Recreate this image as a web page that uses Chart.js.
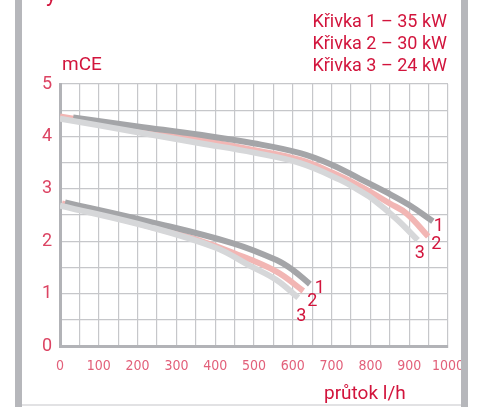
<!DOCTYPE html>
<html>
<head>
<meta charset="utf-8">
<script src="https://cdn.jsdelivr.net/npm/chart.js@4"></script>
<style>
    html, body { margin: 0; padding: 0; background: #ffffff; }
    #wrap { position: relative; width: 480px; height: 407px; overflow: hidden; }
    #chart { position: absolute; left: 0; top: 0; }
    .bar { position: absolute; top: 0; bottom: 0; width: 7px; background: #b6b7bb; }
    .txt { position: absolute; color: #d2143c; font-family: Roboto, sans-serif; white-space: nowrap; }
</style>
</head>
<body>
<div id="wrap">
    <canvas id="chart" width="480" height="407"></canvas>
    <div class="bar" style="left:15px"></div>
    <div class="bar" style="left:461px"></div>
    <div style="position:absolute;left:22px;right:19px;top:404px;height:2px;background:#e2e2e4"></div>
    <div class="txt" style="left:46px;top:-19px;font-size:22px">y</div>
    <div class="txt" style="right:33px;top:10px;font-size:18px;text-align:right;line-height:22px">
        Křivka 1 – 35 kW<br>Křivka 2 – 30 kW<br>Křivka 3 – 24 kW
    </div>
    <div class="txt" style="left:62px;top:52px;font-size:19px">mCE</div>
    <div class="txt" style="left:324px;top:381px;font-size:19px">průtok l/h</div>
</div>
<script>
// Flow (l/h) and head (mCE), upper and lower speed
const q1High = [34, 200, 361, 498, 619, 700, 773, 842, 900, 961];
const h1High = [4.36, 4.19, 4.03, 3.87, 3.68, 3.46, 3.19, 2.93, 2.69, 2.38];
const q2High = [0, 200, 361, 498, 619, 704, 773, 850, 893, 949];
const h2High = [4.38, 4.13, 3.93, 3.74, 3.55, 3.30, 3.05, 2.72, 2.53, 2.09];
const q3High = [0, 200, 361, 500, 619, 722, 773, 807, 868, 922];
const h3High = [4.34, 4.08, 3.87, 3.69, 3.49, 3.17, 2.96, 2.80, 2.42, 2.02];

const q1Low = [13, 232, 446, 558, 600, 644];
const h1Low = [2.74, 2.37, 1.96, 1.64, 1.45, 1.18];
const q2Low = [5, 232, 352, 446, 558, 627];
const h2Low = [2.72, 2.28, 2.03, 1.78, 1.42, 1.05];
const q3Low = [0, 232, 400, 490, 558, 614];
const h3Low = [2.68, 2.27, 1.88, 1.53, 1.26, 0.92];

const curveNames = ['1', '2', '3'];
const curveColors = ['#a4a5a8', '#f2b6b4', '#d6d7d9'];
const xTicks = [0, 100, 200, 300, 400, 500, 600, 700, 800, 900, 1000];
const yTicks = [0, 1, 2, 3, 4, 5];

// label offsets (px) from the end of each curve
const labelOffsets = [[6, 5], [8, 8], [2, 13]];
const labelOffsetsLow = [[10, 4], [9, 11], [3, 19]];

function toPoints(xs, ys) {
    return xs.map((x, i) => ({ x: x, y: ys[i] }));
}

function curve(xs, ys, idx, offs) {
    return {
        label: curveNames[idx],
        data: toPoints(xs, ys),
        borderColor: curveColors[idx],
        borderWidth: 6,
        borderCapStyle: 'butt',
        pointRadius: 0,
        tension: 0.4,
        fill: false,
        endOffset: offs[idx]
    };
}

// draw order: 3 under, then 1, then 2
const datasets = [
    curve(q3High, h3High, 2, labelOffsets),
    curve(q1High, h1High, 0, labelOffsets),
    curve(q2High, h2High, 1, labelOffsets),
    curve(q3Low, h3Low, 2, labelOffsetsLow),
    curve(q1Low, h1Low, 0, labelOffsetsLow),
    curve(q2Low, h2Low, 1, labelOffsetsLow)
];

const endLabels = {
    id: 'endLabels',
    afterDatasetsDraw(chart) {
        const ctx = chart.ctx;
        const xs = chart.scales.x, ys = chart.scales.y;
        ctx.save();
        ctx.fillStyle = '#d2143c';
        ctx.font = '18px Roboto, sans-serif';
        ctx.textAlign = 'center';
        ctx.textBaseline = 'middle';
        chart.data.datasets.forEach(ds => {
            const last = ds.data[ds.data.length - 1];
            const px = xs.getPixelForValue(last.x) + ds.endOffset[0];
            const py = ys.getPixelForValue(last.y) + ds.endOffset[1];
            ctx.fillText(ds.label, px, py);
        });
        ctx.restore();
    }
};

new Chart(document.getElementById('chart'), {
    type: 'line',
    data: { datasets: datasets },
    options: {
        responsive: false,
        animation: false,
        layout: { padding: { left: 0, top: 84, right: 32, bottom: 0 } },
        plugins: { legend: { display: false }, tooltip: { enabled: false } },
        scales: {
            x: {
                type: 'linear',
                min: 0,
                max: 1000,
                afterFit: s => { s.height = 61; },
                border: { color: '#b2b3b7', width: 3 },
                grid: { color: '#c6c7ca', lineWidth: 1.2, drawTicks: false },
                ticks: {
                    stepSize: 50,
                    autoSkip: false,
                    maxRotation: 0,
                    padding: 12,
                    color: '#e2607a',
                    font: { family: '"DejaVu Sans Condensed", "Liberation Sans Narrow", sans-serif', size: 14 },
                    callback: v => xTicks.includes(v) ? String(v) : ''
                }
            },
            y: {
                min: 0,
                max: 5,
                afterFit: s => { s.width = 60; },
                border: { color: '#b2b3b7', width: 3 },
                grid: { color: '#c6c7ca', lineWidth: 1.2, drawTicks: false },
                ticks: {
                    stepSize: 0.5,
                    autoSkip: false,
                    padding: 8,
                    color: '#dc4463',
                    font: { family: 'Roboto, sans-serif', size: 18 },
                    callback: v => yTicks.includes(v) ? String(v) : ''
                }
            }
        }
    },
    plugins: [endLabels]
});
</script>
</body>
</html>
